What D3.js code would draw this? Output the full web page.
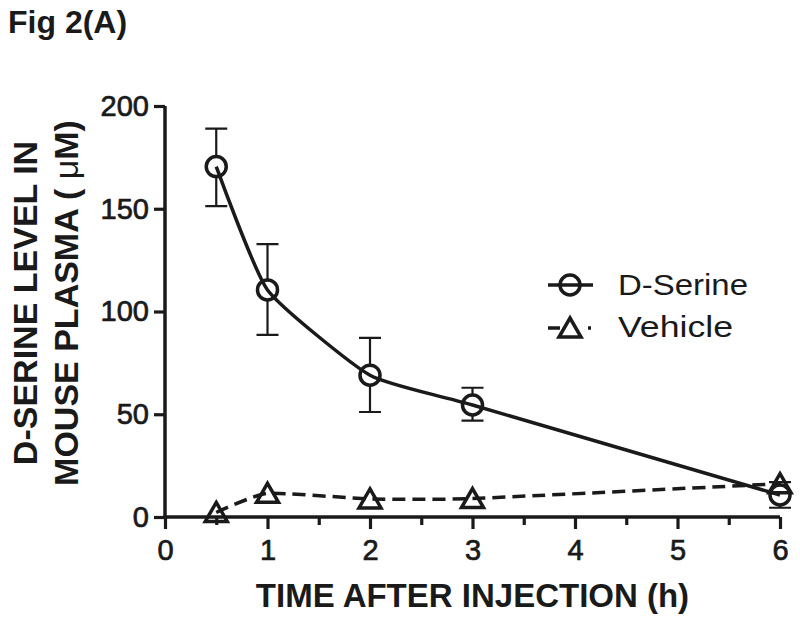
<!DOCTYPE html>
<html>
<head>
<meta charset="utf-8">
<script src="https://cdn.jsdelivr.net/npm/d3@7"></script>
<style>
  html, body { margin: 0; padding: 0; background: #fff; }
  svg { display: block; }
  text { font-family: "Liberation Sans", Arial, Helvetica, sans-serif; fill: #1a1a1a; }
</style>
</head>
<body>
<svg id="chart" width="800" height="623"></svg>
<script>
// ---- data ----
const times = [0.5, 1, 2, 3, 6];
const dSerineMean = [170.5, 110.5, 69, 54.5, 10.7];
const dSerineUpper = [189, 132.8, 87.2, 62.9, 17];
const dSerineLower = [151.3, 88.6, 51.1, 46.9, 4.5];
const vehicleMean = [2.2, 11.5, 8.8, 9, 16.2];
const xTicks = [0, 1, 2, 3, 4, 5, 6];
const xMinorTicks = [0.5, 1.5, 2.5, 3.5, 4.5, 5.5];
const yTicks = [0, 50, 100, 150, 200];
const seriesNames = ["D-Serine", "Vehicle"];
const titleText = "Fig 2(A)";
const xTitle = "TIME AFTER INJECTION (h)";
const yTitleLine1 = "D-SERINE LEVEL IN";
const yTitleLine2 = ["MOUSE PLASMA ( ", "\u03bc", "M)"];

// ---- layout ----
const ink = "#1a1a1a";
const lw = 3.5;
const svg = d3.select("#chart");
const x = d3.scaleLinear().domain([0, 6]).range([165, 780]);
const y = d3.scaleLinear().domain([0, 200]).range([517, 106]);

// title
svg.append("text").attr("x", 8).attr("y", 33)
  .attr("font-size", 32).attr("font-weight", "bold").text(titleText);

// axes
const yAxis = svg.append("g").attr("transform", `translate(${x(0)},0)`)
  .call(d3.axisLeft(y).tickValues(yTicks).tickSize(11).tickPadding(5).tickFormat(d3.format("d")));
const xAxis = svg.append("g").attr("transform", `translate(0,${y(0)})`)
  .call(d3.axisBottom(x).tickValues(xTicks).tickSize(12).tickPadding(10).tickFormat(d3.format("d")));
const xMinor = svg.append("g").attr("transform", `translate(0,${y(0)})`)
  .call(d3.axisBottom(x).tickValues(xMinorTicks).tickSize(8).tickFormat(""));
[yAxis, xAxis, xMinor].forEach(g => {
  g.select(".domain").attr("stroke", ink).attr("stroke-width", lw);
  g.selectAll(".tick line").attr("stroke", ink).attr("stroke-width", 3.2);
  g.selectAll(".tick text").attr("font-size", 29).attr("fill", ink)
    .attr("stroke", ink).attr("stroke-width", 0.7)
    .style("font-family", '"Liberation Sans", Arial, sans-serif');
});
xMinor.select(".domain").remove();
yAxis.select(".domain").attr("d", `M0,${y(200)}V${y(0)}`);
xAxis.select(".domain").attr("d", `M${x(0)-1.5},0H${x(6)}`);

// axis titles
svg.append("text").attr("x", (253 + 692) / 2).attr("y", 607)
  .attr("text-anchor", "middle").attr("font-size", 33).attr("font-weight", "bold").text(xTitle);
const yT = svg.append("g").attr("transform", "translate(37,303) rotate(-90)");
yT.append("text").attr("x", 0).attr("y", 0).attr("text-anchor", "middle")
  .attr("font-size", 34).attr("font-weight", "bold").text(yTitleLine1);
const t2 = yT.append("text").attr("x", 0).attr("y", 41).attr("text-anchor", "middle")
  .attr("font-size", 34).attr("font-weight", "bold");
t2.append("tspan").text(yTitleLine2[0]);
t2.append("tspan").attr("font-weight", "normal").text(yTitleLine2[1]);
t2.append("tspan").text(yTitleLine2[2]);

// lines
const line = d3.line().curve(d3.curveCardinal.tension(0.5)).x(d => x(d[0])).y(d => y(d[1]));
const dsPts = times.map((t, i) => [t, dSerineMean[i]]);
const vePts = times.map((t, i) => [t, vehicleMean[i]]);

svg.append("path").attr("d", line(vePts)).attr("fill", "none")
  .attr("stroke", ink).attr("stroke-width", lw).attr("stroke-dasharray", "13,7");
svg.append("path").attr("d", line(dsPts)).attr("fill", "none")
  .attr("stroke", ink).attr("stroke-width", lw);

// error bars (D-Serine)
const r = 10;
const capW = 11;
const eb = svg.append("g").attr("stroke", ink).attr("stroke-width", 2.2).attr("fill", "none");
times.forEach((t, i) => {
  const cx = x(t), cy = y(dSerineMean[i]);
  const yu = y(dSerineUpper[i]), yl = y(dSerineLower[i]);
  if (cy - r > yu) eb.append("path").attr("d", `M${cx},${cy - r}V${yu}M${cx - capW},${yu}H${cx + capW}`);
  if (yl > cy + r) eb.append("path").attr("d", `M${cx},${cy + r}V${yl}M${cx - capW},${yl}H${cx + capW}`);
  else eb.append("path").attr("d", `M${cx - capW},${yl}H${cx + capW}`);
});

// markers
const tri = (cx, cy) => `M${cx},${cy - 10}L${cx + 11},${cy + 9}L${cx - 11},${cy + 9}Z`;
svg.append("g").selectAll("path").data(vePts).join("path")
  .attr("d", d => tri(x(d[0]), y(d[1])))
  .attr("fill", "none").attr("stroke", ink).attr("stroke-width", lw).attr("stroke-linejoin", "miter");
svg.append("g").selectAll("circle").data(dsPts).join("circle")
  .attr("cx", d => x(d[0])).attr("cy", d => y(d[1])).attr("r", r)
  .attr("fill", "none").attr("stroke", ink).attr("stroke-width", lw);

// legend
const lg = svg.append("g");
const lx0 = 548, lx1 = 593, lmx = 570;
lg.append("line").attr("x1", lx0).attr("x2", lx1).attr("y1", 285).attr("y2", 285)
  .attr("stroke", ink).attr("stroke-width", lw);
lg.append("circle").attr("cx", lmx).attr("cy", 285).attr("r", r)
  .attr("fill", "none").attr("stroke", ink).attr("stroke-width", lw);
lg.append("text").attr("x", 618).attr("y", 295).attr("font-size", 29)
  .attr("textLength", 130).attr("lengthAdjust", "spacingAndGlyphs").text(seriesNames[0]);
lg.append("line").attr("x1", lx0).attr("x2", lx1).attr("y1", 328).attr("y2", 328)
  .attr("stroke", ink).attr("stroke-width", lw).attr("stroke-dasharray", "12,28,3,10");
lg.append("path").attr("d", tri(lmx, 328))
  .attr("fill", "none").attr("stroke", ink).attr("stroke-width", lw);
lg.append("text").attr("x", 618).attr("y", 337).attr("font-size", 29)
  .attr("textLength", 115).attr("lengthAdjust", "spacingAndGlyphs").text(seriesNames[1]);
</script>
</body>
</html>
